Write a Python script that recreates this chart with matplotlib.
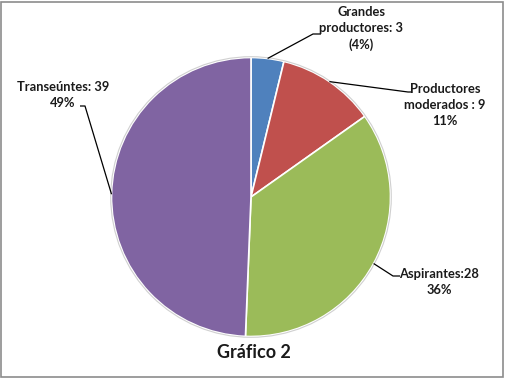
import numpy as np
import matplotlib
matplotlib.use("Agg")
import matplotlib.pyplot as plt
from matplotlib.patches import Rectangle

categories = ["Grandes productores", "Productores moderados", "Aspirantes", "Transeúntes"]
values = [3, 9, 28, 39]
label_texts = ["Grandes\nproductores: 3\n(4%)",
               "Productores\nmoderados : 9\n11%",
               "Aspirantes:28\n36%",
               "Transeúntes: 39\n49%"]
title = "Gráfico 2"
colors = ["#4F81BD", "#C0504D", "#9BBB59", "#8064A2"]

W, H = 505, 378
fig = plt.figure(figsize=(W / 100, H / 100), dpi=100)
ax = fig.add_axes([0, 0, 1, 1])

cx, cy, r = 251, 378 - 197, 139.5
wedges, _ = ax.pie(values, colors=colors, startangle=90, counterclock=False,
                   center=(cx, cy), radius=r, frame=True,
                   wedgeprops=dict(edgecolor="white", linewidth=1.2))
circ = plt.Circle((cx, cy), r + 0.8, fill=False, edgecolor="#d0d0d0", linewidth=0.8)
ax.add_patch(circ)
ax.set_xlim(0, W)
ax.set_ylim(0, H)
ax.set_aspect("equal")
ax.axis("off")

font = dict(family=["Lato", "DejaVu Sans"], fontweight="bold", fontsize=9.3, color="#1a1a1a")

# (elbow point, end point, text position) in pixel space (y from top)
layout = [
    ((313, 34), (321, 34), (361, 28.5)),
    ((408, 92), (411, 92), (445, 105)),
    ((393, 276), (400, 276), (439, 282)),
    ((85, 106), (80, 106), (63, 95)),
]
for w, txt, (elb, end, tp) in zip(wedges, label_texts, layout):
    ang = np.deg2rad((w.theta1 + w.theta2) / 2)
    sx, sy = cx + r * np.cos(ang), cy + r * np.sin(ang)
    ax.plot([sx, elb[0], end[0]], [sy, H - elb[1], H - end[1]], color="black", lw=0.9,
            solid_capstyle="butt")
    ax.text(tp[0], H - tp[1], txt, ha="center", va="center", linespacing=1.4, **font)

ax.text(254, H - 352, title, ha="center", va="center",
        family=["Lato", "DejaVu Sans"], fontweight="bold", fontsize=13, color="#1a1a1a")

fig.patches.append(Rectangle((0.5 / W, 1.5 / H), (W - 3) / W, (H - 3) / H,
                             transform=fig.transFigure, fill=False,
                             edgecolor="#8c8c8c", linewidth=1.2))
fig.savefig("out.png", dpi=100)
